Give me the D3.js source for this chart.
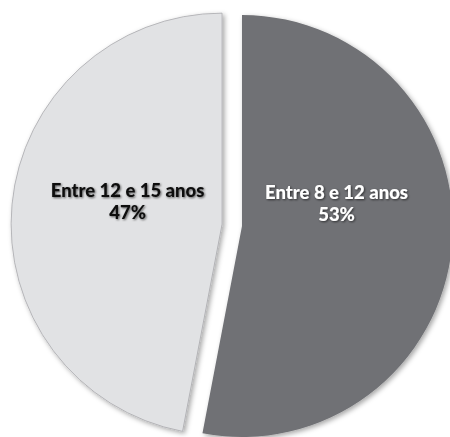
<!DOCTYPE html>
<html>
<head>
<meta charset="utf-8">
<script src="https://cdn.jsdelivr.net/npm/d3@7"></script>
<style>
  body { margin: 0; background: #fff; }
  svg { display: block; }
</style>
</head>
<body>
<svg id="pie" width="450" height="437"></svg>
<script>
// slices, clockwise from 12 o'clock
const labels = ["Entre 8 e 12 anos", "Entre 12 e 15 anos"];
const values = [53, 47];
const colors = ["#707175", "#e1e2e4"];
const textColors = ["#ffffff", "#111111"];

const svg = d3.select("#pie");
const cx = 242, cy = 226, radius = 211;
const explode = 20;

const defs = svg.append("defs");
defs.append("filter")
    .attr("id", "sliceShadow")
    .attr("x", "-10%").attr("y", "-10%")
    .attr("width", "120%").attr("height", "120%")
    .append("feDropShadow")
    .attr("dx", 2).attr("dy", 2)
    .attr("stdDeviation", 2.5)
    .attr("flood-color", "#000")
    .attr("flood-opacity", 0.35);
defs.append("filter")
    .attr("id", "textShadow")
    .append("feDropShadow")
    .attr("dx", 1).attr("dy", 1)
    .attr("stdDeviation", 1)
    .attr("flood-color", "#000")
    .attr("flood-opacity", 0.6);

const pie = d3.pie().sort(null).value(d => d);
const arcs = pie(values);

const arc = d3.arc().innerRadius(0).outerRadius(radius);
const labelArc = d3.arc().innerRadius(radius * 0.45).outerRadius(radius * 0.45);

// the second slice is pulled out along its bisector
function offset(d, i) {
    if (i === 0) return [0, 0];
    const mid = (d.startAngle + d.endAngle) / 2;
    return [Math.sin(mid) * explode, -Math.cos(mid) * explode];
}

const g = svg.append("g").attr("transform", `translate(${cx},${cy})`);

const slices = g.selectAll(".slice")
    .data(arcs)
    .enter()
    .append("g")
    .attr("class", "slice")
    .attr("transform", (d, i) => {
        const [dx, dy] = offset(d, i);
        return `translate(${dx},${dy})`;
    });

slices.append("path")
    .attr("d", arc)
    .attr("fill", (d, i) => colors[i])
    .attr("stroke", (d, i) => i === 1 ? "#a9aaad" : "none")
    .attr("stroke-width", 0.8)
    .attr("filter", "url(#sliceShadow)");

const text = slices.append("text")
    .attr("transform", d => {
        const [x] = labelArc.centroid(d);
        return `translate(${x},-27)`;
    })
    .attr("text-anchor", "middle")
    .attr("font-family", "Lato, 'Open Sans', sans-serif")
    .attr("font-weight", 900)
    .attr("font-size", 18.5)
    .attr("fill", (d, i) => textColors[i])
    .attr("filter", "url(#textShadow)");

text.append("tspan")
    .attr("x", 0)
    .attr("y", 0)
    .text((d, i) => labels[i]);

text.append("tspan")
    .attr("x", 0)
    .attr("y", 22)
    .text((d, i) => values[i] + "%");
</script>
</body>
</html>
